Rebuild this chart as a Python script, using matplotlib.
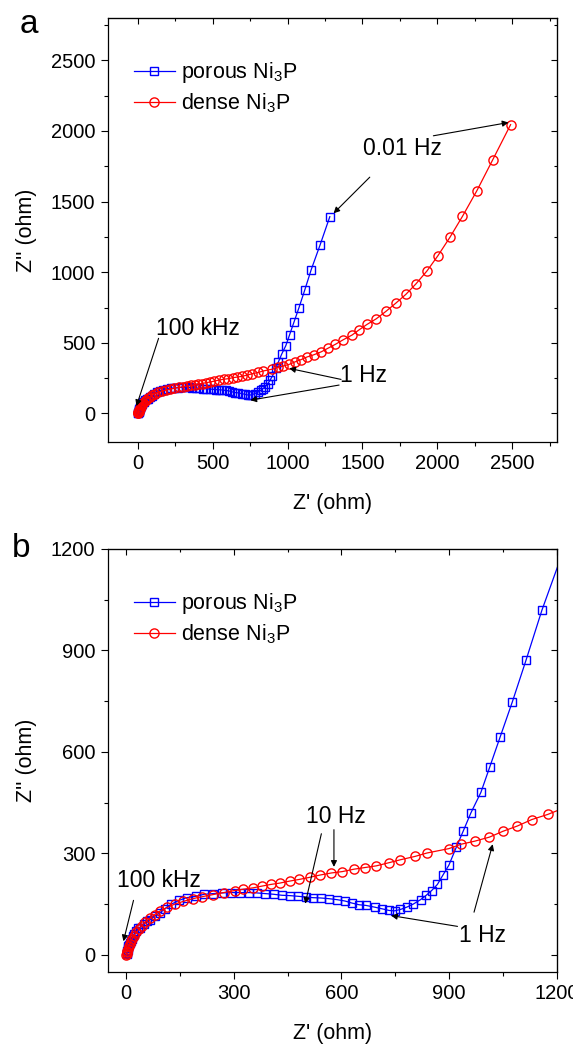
import matplotlib
matplotlib.use("Agg")
import matplotlib.pyplot as plt
from matplotlib.ticker import MultipleLocator

plt.rcParams['font.family'] = ['Liberation Sans', 'DejaVu Sans']
plt.rcParams['mathtext.fontset'] = 'custom'
plt.rcParams['mathtext.rm'] = 'Liberation Sans'
plt.rcParams['mathtext.it'] = 'Liberation Sans:italic'

# ---------------- data ----------------
porous_x = [2, 3, 4, 5, 6, 7, 9, 11, 13, 16, 19, 23, 28, 34, 40, 49, 58, 67, 80, 95,
            108, 125, 148, 169, 195, 218, 243, 268, 292, 318, 342, 364, 387, 411, 434,
            456, 479, 500, 520, 542, 565, 588, 610, 629, 649, 668, 692, 713, 733, 748,
            764, 782, 800, 820, 836, 851, 867, 882, 899, 920, 939, 960, 988, 1013, 1042,
            1076, 1114, 1158, 1216, 1282]
porous_y = [1, 5, 10, 15, 20, 25, 30, 36, 42, 48, 55, 62, 70, 78, 80, 92, 100, 104, 114, 124,
            136, 149, 161, 169, 173, 179, 181, 183, 184, 184, 184, 183, 181, 179, 176,
            175, 173, 171, 169, 168, 166, 163, 159, 153, 148, 146, 141, 136, 131, 130,
            134, 141, 150, 163, 176, 190, 208, 235, 265, 319, 366, 419, 480, 556, 645,
            749, 872, 1019, 1190, 1393]

dense_x = [1, 2, 3, 4, 6, 8, 11, 14, 18, 23, 29, 36, 44, 54, 66, 80, 96, 115, 136, 160,
           186, 213, 242, 272, 303, 327, 354, 378, 403, 428, 456, 483, 511, 541, 572,
           602, 634, 665, 697, 731, 764, 805, 838, 899, 933, 971, 1012, 1049, 1090, 1130,
           1174, 1226, 1270, 1320, 1372, 1432, 1475, 1530, 1592, 1656, 1722, 1790, 1858,
           1932, 2005, 2085, 2168, 2265, 2370, 2490]
dense_y = [0, 3, 7, 12, 18, 25, 32, 40, 48, 57, 66, 76, 86, 97, 108, 119, 130, 140, 150, 158,
           166, 172, 178, 184, 190, 194, 198, 203, 208, 212, 218, 223, 229, 236, 242,
           246, 253, 258, 263, 272, 281, 291, 301, 314, 327, 336, 348, 365, 381, 400,
           415, 437, 462, 490, 522, 556, 590, 630, 670, 722, 780, 843, 918,
           1010, 1118, 1248, 1395, 1578, 1795, 2045]

labels = ['porous Ni$_3$P', 'dense Ni$_3$P']

BLUE = '#0000ff'
RED = '#ff0000'

W, H = 573, 1044
fig = plt.figure(figsize=(W / 100, H / 100), dpi=100)

def add_axes(left, top, right, bottom):
    return fig.add_axes([left / W, 1 - bottom / H, (right - left) / W, (bottom - top) / H])

axA = add_axes(108, 18, 557, 441.7)
axB = add_axes(108, 549, 557, 971.7)

def style(ax, xlim, ylim, xmaj, ymaj):
    ax.plot(porous_x, porous_y, color=BLUE, lw=0.9, marker='s', ms=6.3,
            mfc='none', mec=BLUE, mew=1.0, label=labels[0])
    ax.plot(dense_x, dense_y, color=RED, lw=0.9, marker='o', ms=6.6,
            mfc='none', mec=RED, mew=1.0, label=labels[1])
    ax.set_xlim(*xlim)
    ax.set_ylim(*ylim)
    ax.xaxis.set_major_locator(MultipleLocator(xmaj))
    ax.xaxis.set_minor_locator(MultipleLocator(xmaj / 2))
    ax.yaxis.set_major_locator(MultipleLocator(ymaj))
    ax.yaxis.set_minor_locator(MultipleLocator(ymaj / 2))
    ax.tick_params(which='both', direction='out', labelsize=14.5, width=0.8)
    ax.tick_params(which='major', length=5, pad=4)
    ax.tick_params(which='minor', length=3)
    for sp in ax.spines.values():
        sp.set_linewidth(0.9)
    sx = ax.secondary_xaxis('top')
    sx.xaxis.set_major_locator(MultipleLocator(xmaj))
    sx.xaxis.set_minor_locator(MultipleLocator(xmaj / 2))
    sx.tick_params(which='both', direction='in', labeltop=False, width=0.8)
    sx.tick_params(which='major', length=4)
    sx.tick_params(which='minor', length=2.5)
    sy = ax.secondary_yaxis('right')
    sy.yaxis.set_major_locator(MultipleLocator(ymaj))
    sy.yaxis.set_minor_locator(MultipleLocator(ymaj / 2))
    sy.tick_params(which='both', direction='in', labelright=False, width=0.8)
    sy.tick_params(which='major', length=4)
    sy.tick_params(which='minor', length=2.5)
    ax.set_xlabel("Z' (ohm)", fontsize=15.5, labelpad=14)
    ax.set_ylabel("Z'' (ohm)", fontsize=15.5, labelpad=10)
    ax.legend(loc='upper left', bbox_to_anchor=(0.058, 0.9), frameon=False,
              fontsize=15.5, handlelength=1.9, handletextpad=0.3, labelspacing=0.3,
              borderaxespad=0, borderpad=0)

style(axA, (-200, 2800), (-200, 2800), 500, 500)
style(axB, (-50, 1200), (-50, 1200), 300, 300)

arrow = dict(arrowstyle='-|>', color='k', lw=0.8, mutation_scale=9, shrinkA=0, shrinkB=0)
FS = 16.5

# panel a annotations
axA.text(1764, 1878, '0.01 Hz', fontsize=FS, ha='center', va='center')
axA.annotate('', xy=(2476, 2060), xytext=(1974, 1966), arrowprops=arrow)
axA.annotate('', xy=(1307, 1417), xytext=(1549, 1673), arrowprops=arrow)
axA.text(398, 602, '100 kHz', fontsize=FS, ha='center', va='center')
axA.annotate('', xy=(-10, 52), xytext=(138, 532), arrowprops=arrow)
axA.text(1507, 272, '1 Hz', fontsize=FS, ha='center', va='center')
axA.annotate('', xy=(1011, 319), xytext=(1357, 241), arrowprops=arrow)
axA.annotate('', xy=(751, 94), xytext=(1344, 201), arrowprops=arrow)

# panel b annotations
axB.text(92, 220, '100 kHz', fontsize=FS, ha='center', va='center')
axB.annotate('', xy=(-7, 40), xytext=(21, 161), arrowprops=arrow)
axB.text(585, 408, '10 Hz', fontsize=FS, ha='center', va='center')
axB.annotate('', xy=(579, 260), xytext=(579, 370), arrowprops=arrow)
axB.annotate('', xy=(499, 151), xytext=(544, 358), arrowprops=arrow)
axB.text(992, 57, '1 Hz', fontsize=FS, ha='center', va='center')
axB.annotate('', xy=(738, 116), xytext=(923, 84), arrowprops=arrow)
axB.annotate('', xy=(1021, 327), xytext=(969, 126), arrowprops=arrow)

fig.text(20 / W, 1 - 33 / H, 'a', fontsize=24, ha='left', va='baseline')
fig.text(12 / W, 1 - 557 / H, 'b', fontsize=24, ha='left', va='baseline')

fig.savefig('out.png', dpi=100)
